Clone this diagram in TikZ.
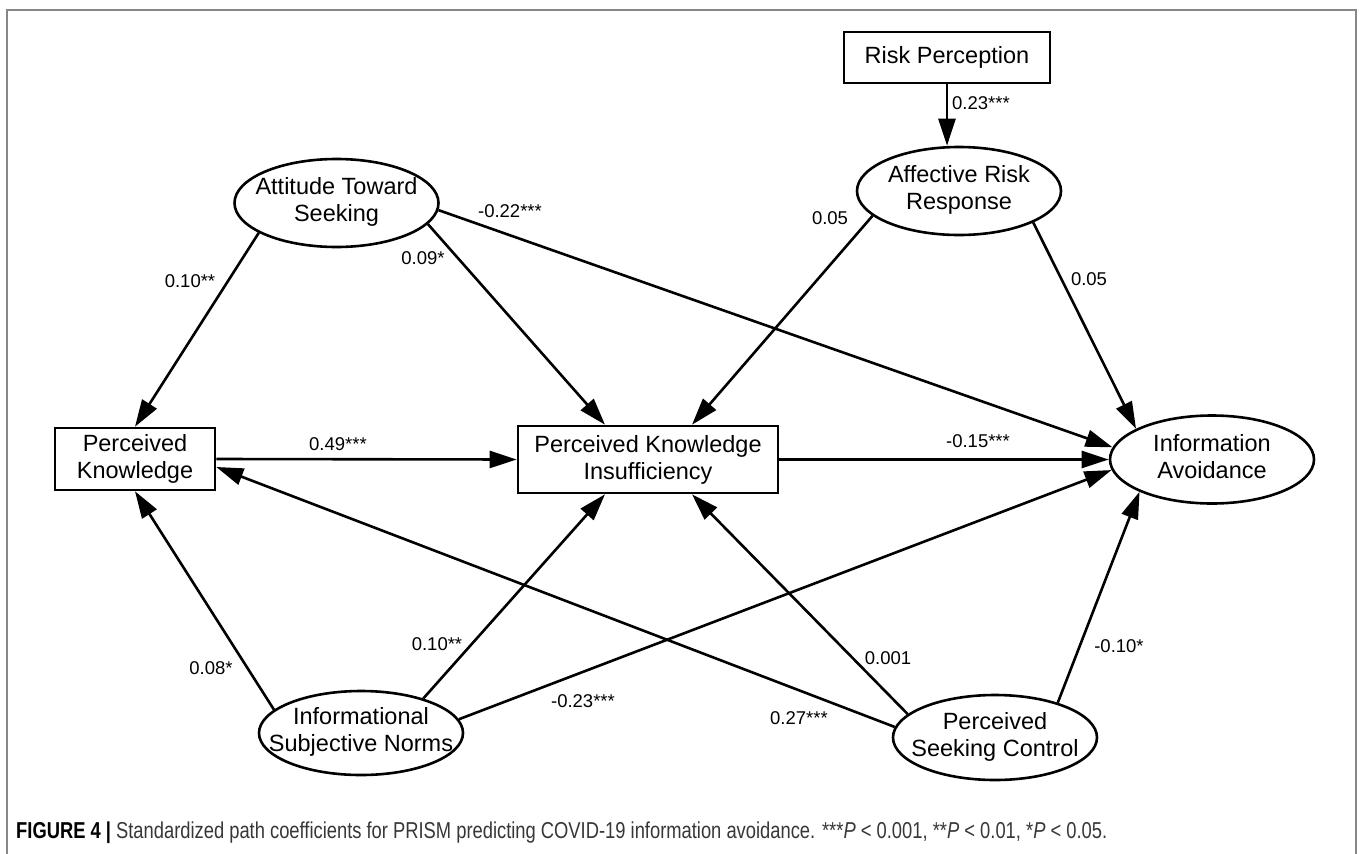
\documentclass[tikz,border=0pt]{standalone}
\usepackage{fontspec}
\usepackage{graphicx}
\setmainfont{Liberation Sans}
\usetikzlibrary{arrows.meta,shapes.geometric}
\definecolor{framegray}{RGB}{135,135,135}
\definecolor{capgray}{RGB}{55,55,55}
\newcommand\nodefont{\fontsize{23.5}{27}\selectfont}
\newcommand\labfont{\fontsize{18.5}{20}\selectfont}
\newcommand\capfont{\fontsize{23}{26}\selectfont}
\newcommand\twol[2]{\makebox[0pt][c]{\begin{tabular}{@{}c@{}}#1\\#2\end{tabular}}}
\begin{document}
\begin{tikzpicture}[x=1pt,y=-1pt,
  ell/.style={ellipse, draw, line width=2.6pt, minimum width=204pt, minimum height=88pt, inner sep=0pt, font=\nodefont},
  box/.style={rectangle, draw, line width=2.6pt, inner sep=0pt, align=center, font=\nodefont},
  conn/.style={line width=2.6pt, -{Triangle[length=27pt,width=17pt]}},
  lab/.style={font=\labfont, inner sep=0pt},
]
\useasboundingbox (0,0) rectangle (1363,854);
\draw[framegray, line width=2.5pt] (7,880) -- (7,10) -- (1356,10) -- (1356,880);

% nodes
\node[box, minimum width=206pt, minimum height=51pt] (rp) at (947,57.5) {Risk Perception};
\node[ell] (arr) at (959,191) {\twol{Affective Risk}{Response}};
\node[ell] (ats) at (336.5,203) {\twol{Attitude Toward}{Seeking}};
\node[box, minimum width=160pt, minimum height=62pt] (pk) at (135,459) {Perceived\\Knowledge};
\node[box, minimum width=260pt, minimum height=67pt] (pki) at (648,459.5) {Perceived Knowledge\\Insufficiency};
\node[ell] (ia) at (1212,459.5) {\twol{Information}{Avoidance}};
\node[ell, minimum height=84pt] (isn) at (361,733) {\twol{Informational}{Subjective Norms}};
\node[ell, minimum height=85pt] (psc) at (995,737.5) {\twol{Perceived}{Seeking Control}};

% connectors
\draw[conn] (rp.south) -- (rp.south |- arr.north);
\draw[conn] (ats.201) -- (pk.north);
\draw[conn] (ats.347) -- ([xshift=-43pt]pki.north);
\draw[conn] (ats.356) -- (ia.173);
\draw[conn] (arr.196) -- ([xshift=44pt]pki.north);
\draw[conn] (arr.337) -- (ia.158);
\draw[conn] (pk.east) -- (pki.west);
\draw[conn] (pki.east) -- (ia.west);
\draw[conn] (isn.165) -- (pk.south);
\draw[conn] (isn.29) -- ([xshift=-43pt]pki.south);
\draw[conn] (isn.8) -- (ia.186);
\draw[conn] (psc.174) -- ([yshift=-8pt]pk.east);
\draw[conn] (psc.165) -- ([xshift=44pt]pki.south);
\draw[conn] (psc.29) -- (ia.204);

% labels
\node[lab] (l1) at (981,103) {0.23***};
\node[lab] (l2) at (190,281) {0.10**};
\node[lab] (l3) at (423,258) {0.09*};
\node[lab] (l4) at (510,211) {-0.22***};
\node[lab] (l5) at (830,218) {0.05};
\node[lab] (l6) at (1089,279) {0.05};
\node[lab] (l7) at (338,444) {0.49***};
\node[lab] (l8) at (978,441) {-0.15***};
\node[lab] (l9) at (211,668) {0.08*};
\node[lab] (l10) at (437,644) {0.10**};
\node[lab] (l11) at (583,701) {-0.23***};
\node[lab] (l12) at (799,718) {0.27***};
\node[lab] (l13) at (888,658) {0.001};
\node[lab] (l14) at (1119,646) {-0.10*};

% caption
\node[anchor=west, inner sep=0pt, font=\capfont] (cap) at (16,833) {\resizebox{1091pt}{\height}{\textbf{FIGURE 4 |} \textcolor{capgray}{Standardized path coefficients for PRISM predicting COVID-19 information avoidance. ***\textit{P} < 0.001, **\textit{P} < 0.01, *\textit{P} < 0.05.}}};
\end{tikzpicture}
\end{document}
